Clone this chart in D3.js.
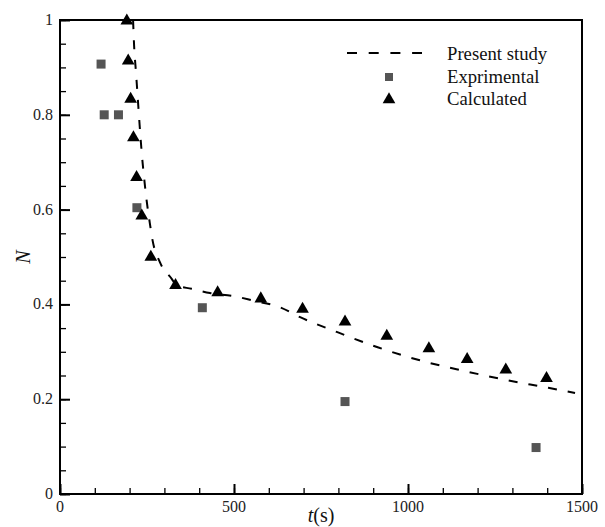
<!DOCTYPE html>
<html>
<head>
<meta charset="utf-8">
<script src="https://cdn.jsdelivr.net/npm/d3@7"></script>
<style>
  body { margin: 0; background: #fff; }
</style>
</head>
<body>
<div id="chart"></div>
<script>
// present study (dashed curve)
const curveT = [210, 213, 218, 222, 226, 231, 236, 242, 249, 257, 266, 287, 321, 335, 378, 431, 503, 555, 632, 690, 795, 915, 1034, 1159, 1279, 1403, 1480]
const curveN = [1.0, 0.945, 0.893, 0.851, 0.808, 0.756, 0.71, 0.665, 0.619, 0.577, 0.535, 0.489, 0.454, 0.44, 0.433, 0.424, 0.417, 0.408, 0.394, 0.373, 0.342, 0.309, 0.282, 0.26, 0.241, 0.224, 0.213]

// experimental (squares)
const expT = [118, 127, 168, 221, 409, 819, 1368]
const expN = [0.907, 0.80, 0.80, 0.604, 0.393, 0.195, 0.098]

// calculated (triangles)
const calcT = [192, 196, 203, 211, 220, 235, 261, 332, 453, 577, 697, 819, 939, 1060, 1170, 1281, 1398]
const calcN = [0.998, 0.914, 0.833, 0.752, 0.668, 0.587, 0.50, 0.44, 0.425, 0.412, 0.39, 0.363, 0.333, 0.307, 0.284, 0.262, 0.244]

const xTicks = [0, 500, 1000, 1500]
const yTicks = [0, 0.2, 0.4, 0.6, 0.8, 1]
const legendLabels = ['Present study', 'Exprimental', 'Calculated']

const W = 605, H = 527,
      m = { left: 60, right: 23, top: 20, bottom: 33 },
      serif = "'Liberation Serif', 'Times New Roman', Times, serif"

let svg = d3.select('#chart').append('svg')
  .attr('width', W).attr('height', H)
  .style('font-family', serif)

let x = d3.scaleLinear().domain([0, 1500]).range([m.left, W - m.right]),
    y = d3.scaleLinear().domain([0, 1]).range([H - m.bottom, m.top])

// minor ticks (inward)
svg.append('g')
  .attr('transform', `translate(0,${y(0)})`)
  .call(d3.axisTop(x).tickValues(d3.range(0, 1501, 100)).tickSize(6).tickFormat(''))
  .call(g => g.select('.domain').remove())
  .selectAll('line').attr('stroke-width', 1.3)

svg.append('g')
  .attr('transform', `translate(${x(0)},0)`)
  .call(d3.axisRight(y).tickValues(d3.range(0, 21).map(i => i * 0.05)).tickSize(6).tickFormat(''))
  .call(g => g.select('.domain').remove())
  .selectAll('line').attr('stroke-width', 1.3)

// major ticks
let gx = svg.append('g')
  .attr('transform', `translate(0,${y(0)})`)
  .call(d3.axisTop(x).tickValues(xTicks).tickSize(10).tickFormat(''))
gx.select('.domain').remove()
gx.selectAll('line').attr('stroke-width', 2)

let gy = svg.append('g')
  .attr('transform', `translate(${x(0)},0)`)
  .call(d3.axisRight(y).tickValues(yTicks).tickSize(10).tickFormat(''))
gy.select('.domain').remove()
gy.selectAll('line').attr('stroke-width', 2)

// tick labels
svg.selectAll('text.xt')
  .data(xTicks)
  .enter()
  .append('text')
  .attr('class', 'xt')
  .attr('x', d => x(d))
  .attr('y', y(0) + 18)
  .attr('text-anchor', 'middle')
  .attr('font-size', 16)
  .attr('fill', '#222')
  .text(d => d)

svg.selectAll('text.yt')
  .data(yTicks)
  .enter()
  .append('text')
  .attr('class', 'yt')
  .attr('x', x(0) - 7)
  .attr('y', d => y(d) + 5)
  .attr('text-anchor', 'end')
  .attr('font-size', 16)
  .attr('fill', '#222')
  .text(d => d)

// frame
svg.append('rect')
  .attr('x', x(0)).attr('y', y(1))
  .attr('width', x(1500) - x(0)).attr('height', y(0) - y(1))
  .attr('fill', 'none').attr('stroke', '#000').attr('stroke-width', 2)

// axis titles
svg.append('text')
  .attr('x', (x(0) + x(1500)) / 2)
  .attr('y', H - 5)
  .attr('text-anchor', 'middle')
  .attr('font-size', 20)
  .attr('fill', '#111')
  .html('<tspan font-style="italic">t</tspan>(s)')

svg.append('text')
  .attr('transform', `translate(30,${(y(0) + y(1)) / 2}) rotate(-90)`)
  .attr('text-anchor', 'middle')
  .attr('font-size', 20)
  .attr('font-style', 'italic')
  .attr('fill', '#111')
  .text('N')

// curve
let line = d3.line()
  .x((d, i) => x(curveT[i]))
  .y(d => y(d))
  .curve(d3.curveMonotoneX)

svg.append('path')
  .datum(curveN)
  .attr('d', line)
  .attr('fill', 'none')
  .attr('stroke', '#000')
  .attr('stroke-width', 2)
  .attr('stroke-dasharray', '9,11')

// squares
const sq = 9
svg.selectAll('rect.exp')
  .data(expN)
  .enter()
  .append('rect')
  .attr('class', 'exp')
  .attr('x', (d, i) => x(expT[i]) - sq / 2)
  .attr('y', d => y(d) - sq / 2)
  .attr('width', sq).attr('height', sq)
  .attr('fill', '#555')

// triangles
let tri = d3.symbol().type(d3.symbolTriangle).size(70)
svg.selectAll('path.calc')
  .data(calcN)
  .enter()
  .append('path')
  .attr('class', 'calc')
  .attr('d', tri)
  .attr('transform', (d, i) => `translate(${x(calcT[i])},${y(d)})`)
  .attr('fill', '#000')

// legend
let lg = svg.append('g')
lg.append('line')
  .attr('x1', 347).attr('x2', 422).attr('y1', 53).attr('y2', 53)
  .attr('stroke', '#000').attr('stroke-width', 2).attr('stroke-dasharray', '10,11.7')
lg.append('rect')
  .attr('x', 389 - 4).attr('y', 77 - 4).attr('width', 8).attr('height', 8)
  .attr('fill', '#555')
lg.append('path')
  .attr('d', tri)
  .attr('transform', 'translate(389,99.5)')
lg.selectAll('text')
  .data(legendLabels)
  .enter()
  .append('text')
  .attr('x', 447)
  .attr('y', (d, i) => 60 + i * 22.5)
  .attr('font-size', 18.7)
  .attr('fill', '#111')
  .text(d => d)
</script>
</body>
</html>
